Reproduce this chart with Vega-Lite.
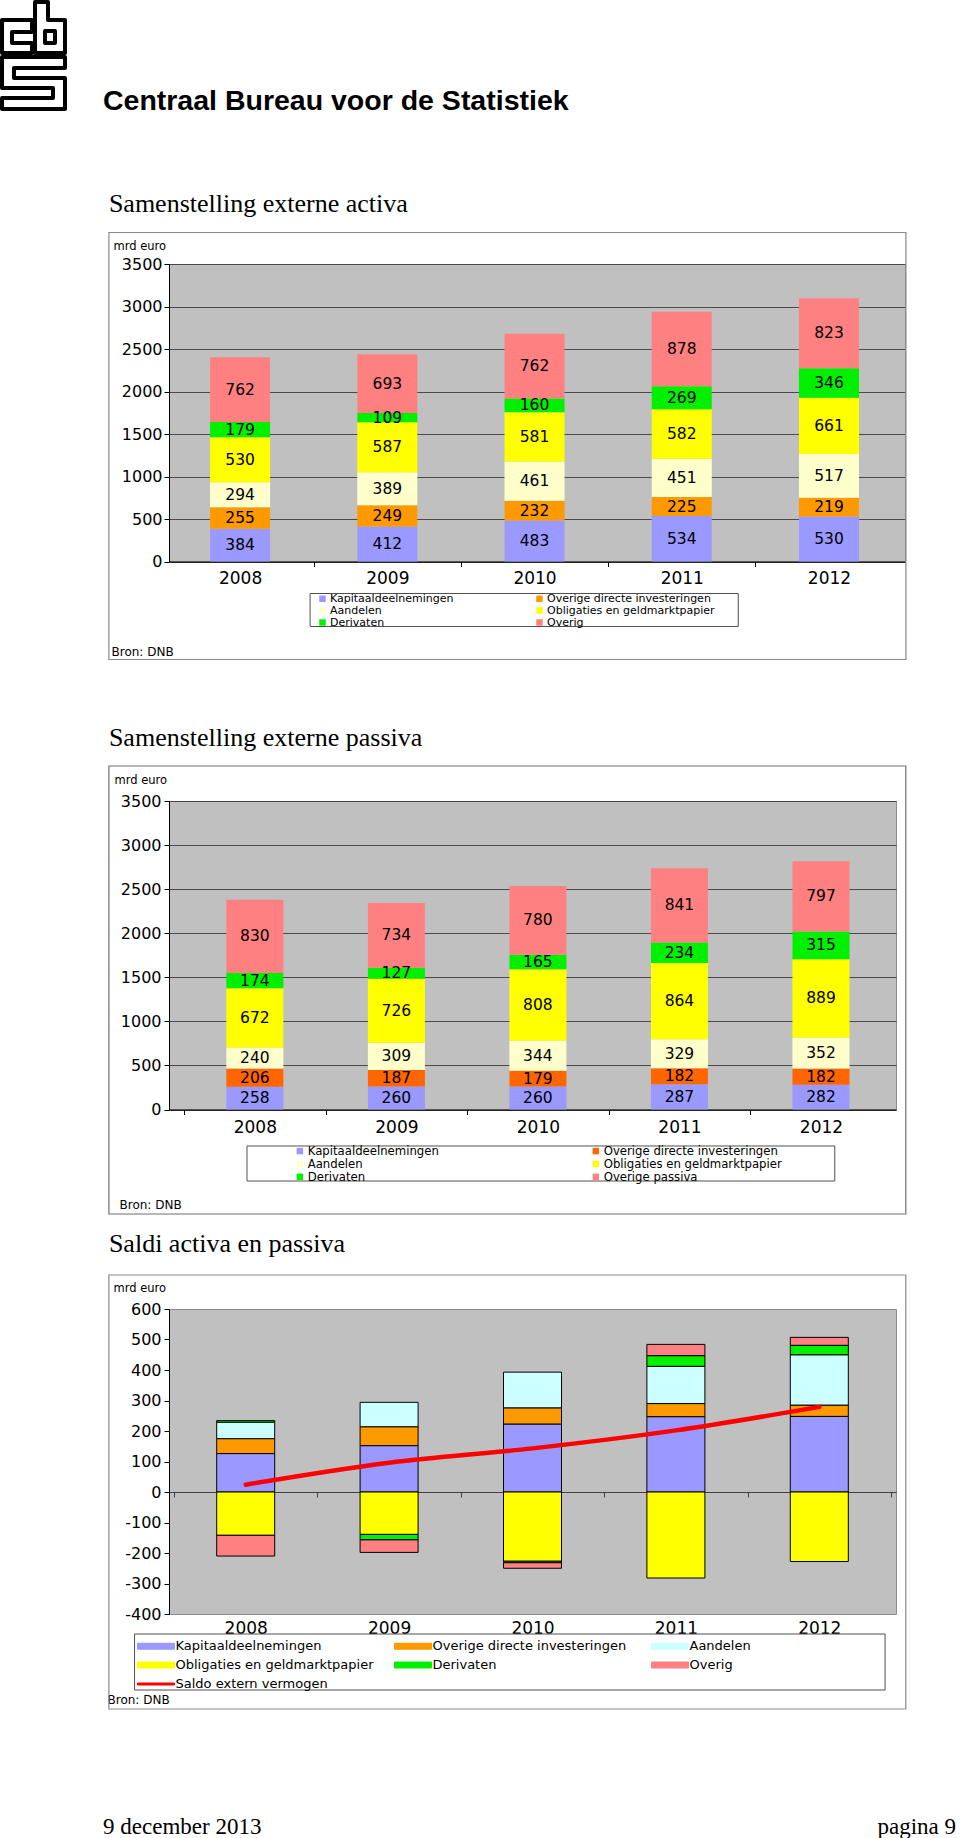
{
"$schema": "https://vega.github.io/schema/vega-lite/v6.json",
"padding": 0,
"background": "white",
"columns": 1,
"align": "none",
"spacing": 0,
"bounds": "full",
"resolve": {"scale": {"color": "independent"}, "legend": {"color": "independent"}},
"config": {
  "font": "DejaVu Sans",
  "view": {"stroke": null},
  "axis": {"labelColor": "#000", "titleColor": "#000", "labelFont": "DejaVu Sans", "titleFont": "DejaVu Sans", "titleFontWeight": "normal", "labelOverlap": false},
  "axisY": {"labelOverlap": false},
  "legend": {"labelColor": "#000", "labelFont": "DejaVu Sans"}
},
"datasets": {
  "logo": [
    {"part": "c", "i": 1, "lx": 0.9, "ly": 6.0}, {"part": "c", "i": 2, "lx": 9.84, "ly": 6.0}, {"part": "c", "i": 3, "lx": 9.84, "ly": 9.54}, {"part": "c", "i": 4, "lx": 3.88, "ly": 9.54}, {"part": "c", "i": 5, "lx": 3.88, "ly": 12.82}, {"part": "c", "i": 6, "lx": 9.84, "ly": 12.82}, {"part": "c", "i": 7, "lx": 9.84, "ly": 15.81}, {"part": "c", "i": 8, "lx": 0.9, "ly": 15.81}, {"part": "c", "i": 9, "lx": 0.9, "ly": 6.0},
    {"part": "b", "i": 1, "lx": 10.74, "ly": 0.6}, {"part": "b", "i": 2, "lx": 14.61, "ly": 0.6}, {"part": "b", "i": 3, "lx": 14.61, "ly": 5.96}, {"part": "b", "i": 4, "lx": 19.68, "ly": 5.96}, {"part": "b", "i": 5, "lx": 19.68, "ly": 15.81}, {"part": "b", "i": 6, "lx": 10.74, "ly": 15.81}, {"part": "b", "i": 7, "lx": 10.74, "ly": 0.6},
    {"part": "h", "i": 1, "lx": 13.72, "ly": 9.25}, {"part": "h", "i": 2, "lx": 16.7, "ly": 9.25}, {"part": "h", "i": 3, "lx": 16.7, "ly": 12.82}, {"part": "h", "i": 4, "lx": 13.72, "ly": 12.82}, {"part": "h", "i": 5, "lx": 13.72, "ly": 9.25},
    {"part": "s", "i": 1, "lx": 0.9, "ly": 17.0}, {"part": "s", "i": 2, "lx": 19.68, "ly": 17.0}, {"part": "s", "i": 3, "lx": 19.68, "ly": 20.28}, {"part": "s", "i": 4, "lx": 4.47, "ly": 20.28}, {"part": "s", "i": 5, "lx": 4.47, "ly": 23.26}, {"part": "s", "i": 6, "lx": 19.68, "ly": 23.26}, {"part": "s", "i": 7, "lx": 19.68, "ly": 32.51}, {"part": "s", "i": 8, "lx": 0.9, "ly": 32.51}, {"part": "s", "i": 9, "lx": 0.9, "ly": 29.23}, {"part": "s", "i": 10, "lx": 16.1, "ly": 29.23}, {"part": "s", "i": 11, "lx": 16.1, "ly": 26.24}, {"part": "s", "i": 12, "lx": 0.9, "ly": 26.24}, {"part": "s", "i": 13, "lx": 0.9, "ly": 17.0}
  ],
  "a1": [
    {"year": 2008, "reeks": "Kapitaaldeelnemingen", "k": 1, "v": 384}, {"year": 2009, "reeks": "Kapitaaldeelnemingen", "k": 1, "v": 412}, {"year": 2010, "reeks": "Kapitaaldeelnemingen", "k": 1, "v": 483}, {"year": 2011, "reeks": "Kapitaaldeelnemingen", "k": 1, "v": 534}, {"year": 2012, "reeks": "Kapitaaldeelnemingen", "k": 1, "v": 530},
    {"year": 2008, "reeks": "Overige directe investeringen", "k": 2, "v": 255}, {"year": 2009, "reeks": "Overige directe investeringen", "k": 2, "v": 249}, {"year": 2010, "reeks": "Overige directe investeringen", "k": 2, "v": 232}, {"year": 2011, "reeks": "Overige directe investeringen", "k": 2, "v": 225}, {"year": 2012, "reeks": "Overige directe investeringen", "k": 2, "v": 219},
    {"year": 2008, "reeks": "Aandelen", "k": 3, "v": 294}, {"year": 2009, "reeks": "Aandelen", "k": 3, "v": 389}, {"year": 2010, "reeks": "Aandelen", "k": 3, "v": 461}, {"year": 2011, "reeks": "Aandelen", "k": 3, "v": 451}, {"year": 2012, "reeks": "Aandelen", "k": 3, "v": 517},
    {"year": 2008, "reeks": "Obligaties en geldmarktpapier", "k": 4, "v": 530}, {"year": 2009, "reeks": "Obligaties en geldmarktpapier", "k": 4, "v": 587}, {"year": 2010, "reeks": "Obligaties en geldmarktpapier", "k": 4, "v": 581}, {"year": 2011, "reeks": "Obligaties en geldmarktpapier", "k": 4, "v": 582}, {"year": 2012, "reeks": "Obligaties en geldmarktpapier", "k": 4, "v": 661},
    {"year": 2008, "reeks": "Derivaten", "k": 5, "v": 179}, {"year": 2009, "reeks": "Derivaten", "k": 5, "v": 109}, {"year": 2010, "reeks": "Derivaten", "k": 5, "v": 160}, {"year": 2011, "reeks": "Derivaten", "k": 5, "v": 269}, {"year": 2012, "reeks": "Derivaten", "k": 5, "v": 346},
    {"year": 2008, "reeks": "Overig", "k": 6, "v": 762}, {"year": 2009, "reeks": "Overig", "k": 6, "v": 693}, {"year": 2010, "reeks": "Overig", "k": 6, "v": 762}, {"year": 2011, "reeks": "Overig", "k": 6, "v": 878}, {"year": 2012, "reeks": "Overig", "k": 6, "v": 823}
  ],
  "a2": [
    {"year": 2008, "reeks": "Kapitaaldeelnemingen", "k": 1, "v": 258}, {"year": 2009, "reeks": "Kapitaaldeelnemingen", "k": 1, "v": 260}, {"year": 2010, "reeks": "Kapitaaldeelnemingen", "k": 1, "v": 260}, {"year": 2011, "reeks": "Kapitaaldeelnemingen", "k": 1, "v": 287}, {"year": 2012, "reeks": "Kapitaaldeelnemingen", "k": 1, "v": 282},
    {"year": 2008, "reeks": "Overige directe investeringen", "k": 2, "v": 206}, {"year": 2009, "reeks": "Overige directe investeringen", "k": 2, "v": 187}, {"year": 2010, "reeks": "Overige directe investeringen", "k": 2, "v": 179}, {"year": 2011, "reeks": "Overige directe investeringen", "k": 2, "v": 182}, {"year": 2012, "reeks": "Overige directe investeringen", "k": 2, "v": 182},
    {"year": 2008, "reeks": "Aandelen", "k": 3, "v": 240}, {"year": 2009, "reeks": "Aandelen", "k": 3, "v": 309}, {"year": 2010, "reeks": "Aandelen", "k": 3, "v": 344}, {"year": 2011, "reeks": "Aandelen", "k": 3, "v": 329}, {"year": 2012, "reeks": "Aandelen", "k": 3, "v": 352},
    {"year": 2008, "reeks": "Obligaties en geldmarktpapier", "k": 4, "v": 672}, {"year": 2009, "reeks": "Obligaties en geldmarktpapier", "k": 4, "v": 726}, {"year": 2010, "reeks": "Obligaties en geldmarktpapier", "k": 4, "v": 808}, {"year": 2011, "reeks": "Obligaties en geldmarktpapier", "k": 4, "v": 864}, {"year": 2012, "reeks": "Obligaties en geldmarktpapier", "k": 4, "v": 889},
    {"year": 2008, "reeks": "Derivaten", "k": 5, "v": 174}, {"year": 2009, "reeks": "Derivaten", "k": 5, "v": 127}, {"year": 2010, "reeks": "Derivaten", "k": 5, "v": 165}, {"year": 2011, "reeks": "Derivaten", "k": 5, "v": 234}, {"year": 2012, "reeks": "Derivaten", "k": 5, "v": 315},
    {"year": 2008, "reeks": "Overige passiva", "k": 6, "v": 830}, {"year": 2009, "reeks": "Overige passiva", "k": 6, "v": 734}, {"year": 2010, "reeks": "Overige passiva", "k": 6, "v": 780}, {"year": 2011, "reeks": "Overige passiva", "k": 6, "v": 841}, {"year": 2012, "reeks": "Overige passiva", "k": 6, "v": 797}
  ],
  "a3": [
    {"year": 2008, "reeks": "Kapitaaldeelnemingen", "k": 1, "v": 126}, {"year": 2009, "reeks": "Kapitaaldeelnemingen", "k": 1, "v": 152}, {"year": 2010, "reeks": "Kapitaaldeelnemingen", "k": 1, "v": 223}, {"year": 2011, "reeks": "Kapitaaldeelnemingen", "k": 1, "v": 247}, {"year": 2012, "reeks": "Kapitaaldeelnemingen", "k": 1, "v": 248},
    {"year": 2008, "reeks": "Overige directe investeringen", "k": 2, "v": 49}, {"year": 2009, "reeks": "Overige directe investeringen", "k": 2, "v": 62}, {"year": 2010, "reeks": "Overige directe investeringen", "k": 2, "v": 53}, {"year": 2011, "reeks": "Overige directe investeringen", "k": 2, "v": 43}, {"year": 2012, "reeks": "Overige directe investeringen", "k": 2, "v": 37},
    {"year": 2008, "reeks": "Aandelen", "k": 3, "v": 54}, {"year": 2009, "reeks": "Aandelen", "k": 3, "v": 80}, {"year": 2010, "reeks": "Aandelen", "k": 3, "v": 117}, {"year": 2011, "reeks": "Aandelen", "k": 3, "v": 122}, {"year": 2012, "reeks": "Aandelen", "k": 3, "v": 165},
    {"year": 2008, "reeks": "Obligaties en geldmarktpapier", "k": 4, "v": -142}, {"year": 2009, "reeks": "Obligaties en geldmarktpapier", "k": 4, "v": -139}, {"year": 2010, "reeks": "Obligaties en geldmarktpapier", "k": 4, "v": -227}, {"year": 2011, "reeks": "Obligaties en geldmarktpapier", "k": 4, "v": -282}, {"year": 2012, "reeks": "Obligaties en geldmarktpapier", "k": 4, "v": -228},
    {"year": 2008, "reeks": "Derivaten", "k": 5, "v": 5}, {"year": 2009, "reeks": "Derivaten", "k": 5, "v": -18}, {"year": 2010, "reeks": "Derivaten", "k": 5, "v": -5}, {"year": 2011, "reeks": "Derivaten", "k": 5, "v": 35}, {"year": 2012, "reeks": "Derivaten", "k": 5, "v": 31},
    {"year": 2008, "reeks": "Overig", "k": 6, "v": -68}, {"year": 2009, "reeks": "Overig", "k": 6, "v": -41}, {"year": 2010, "reeks": "Overig", "k": 6, "v": -18}, {"year": 2011, "reeks": "Overig", "k": 6, "v": 37}, {"year": 2012, "reeks": "Overig", "k": 6, "v": 26}
  ],
  "s3": [
    {"year": 2008, "reeks": "Saldo extern vermogen", "v": 24}, {"year": 2009, "reeks": "Saldo extern vermogen", "v": 96}, {"year": 2010, "reeks": "Saldo extern vermogen", "v": 143}, {"year": 2011, "reeks": "Saldo extern vermogen", "v": 202}, {"year": 2012, "reeks": "Saldo extern vermogen", "v": 279}
  ]
},
"concat": [
  {
    "width": 742, "height": 140,
    "view": {"stroke": null},
    "layer": [
      {"data": {"name": "logo"}, "mark": {"type": "line", "color": "#000", "strokeWidth": 4, "strokeJoin": "round", "strokeCap": "round", "clip": false},
       "encoding": {
         "x": {"field": "lx", "type": "quantitative", "scale": {"domain": [50.7, 272], "nice": false, "zero": false}, "axis": null},
         "y": {"field": "ly", "type": "quantitative", "scale": {"domain": [0, 41.75], "reverse": true, "nice": false, "zero": false}, "axis": null},
         "detail": {"field": "part"},
         "order": {"field": "i"}}},
      {"data": {"values": [{"t": "Centraal Bureau voor de Statistiek"}]},
       "mark": {"type": "text", "font": "Liberation Sans", "fontWeight": "bold", "fontSize": 28.5, "align": "left", "baseline": "alphabetic", "color": "#000", "clip": false},
       "encoding": {
         "x": {"datum": 31, "type": "quantitative", "scale": {"domain": [50.7, 272], "nice": false, "zero": false}, "axis": null},
         "y": {"datum": 32.8, "type": "quantitative", "scale": {"domain": [0, 41.75], "reverse": true, "nice": false, "zero": false}, "axis": null},
         "text": {"field": "t"}}}
    ]
  },
  {
    "width": 736, "height": 297.5,
    "view": {"fill": "#c0c0c0", "stroke": "#8c8c8c", "strokeWidth": 1},
    "layer": [
      {"data": {"values": [{}]}, "mark": {"type": "rect", "opacity": 0, "clip": false},
       "encoding": {
         "x": {"datum": 2006.4121, "type": "quantitative", "scale": {"domain": [2007.5511, 2012.4824], "nice": false, "zero": false}},
         "x2": {"datum": 2007.1089},
         "y": {"datum": 4941.3, "type": "quantitative", "scale": {"domain": [0, 3500], "nice": false, "zero": false}},
         "y2": {"datum": -1529.4}}},
      {"data": {"values": [{"t": "Samenstelling externe activa"}]},
       "mark": {"type": "text", "font": "Liberation Serif", "fontSize": 26, "align": "left", "baseline": "alphabetic", "color": "#000", "clip": false},
       "encoding": {
         "x": {"datum": 2007.1089, "type": "quantitative"},
         "y": {"datum": 4106, "type": "quantitative"},
         "text": {"field": "t"}}},
      {"data": {"values": [{}]}, "mark": {"type": "rect", "fillOpacity": 0, "stroke": "#8a8a8a", "strokeWidth": 1.2, "clip": false},
       "encoding": {
         "x": {"datum": 2007.1089, "type": "quantitative"},
         "x2": {"datum": 2012.5226},
         "y": {"datum": 3870.7, "type": "quantitative"},
         "y2": {"datum": -1153}}},
      {"data": {"values": [{}]}, "mark": {"type": "rect", "fillOpacity": 0, "stroke": "#505050", "strokeWidth": 1, "clip": false},
       "encoding": {
         "x": {"datum": 2008.4757, "type": "quantitative"},
         "x2": {"datum": 2011.3836},
         "y": {"datum": -376.5, "type": "quantitative"},
         "y2": {"datum": -764.7}}},
      {"data": {"name": "a1"},
       "transform": [{"stack": "v", "groupby": ["year"], "sort": [{"field": "k", "order": "ascending"}], "as": ["s0", "s1"]}],
       "mark": {"type": "bar", "size": 60, "orient": "vertical"},
       "encoding": {
         "x": {"field": "year", "type": "quantitative", "scale": {"domain": [2007.5511, 2012.4824], "nice": false, "zero": false},
               "axis": {"values": [2008, 2008.5, 2009, 2009.5, 2010, 2010.5, 2011, 2011.5, 2012],
                        "labelExpr": "datum.value % 1 == 0 ? '' + datum.value : ''",
                        "tickOpacity": {"condition": {"test": "datum.value % 1 == 0", "value": 0}, "value": 1},
                        "tickSize": 5, "tickColor": "#000", "domainColor": "#000", "labelFontSize": 17, "labelPadding": 3.5,
                        "labelOverlap": false, "labelFlush": false, "labelBound": false, "grid": false,
                        "title": "Bron: DNB", "titleX": -58, "titleY": 90, "titleAlign": "left", "titleAnchor": "start", "titleBaseline": "middle", "titleFontSize": 12}},
         "y": {"field": "s0", "type": "quantitative", "scale": {"domain": [0, 3500], "nice": false, "zero": false},
               "axis": {"values": [0, 500, 1000, 1500, 2000, 2500, 3000, 3500], "grid": true, "gridColor": "#4a4a4a", "gridWidth": 1,
                        "tickSize": 5, "tickColor": "#000", "domainColor": "#000", "labelFontSize": 16, "labelPadding": 2, "labelOverlap": false,
                        "labelExpr": "'' + datum.value",
                        "title": "mrd euro", "titleAngle": 0, "titleX": -56, "titleY": -17.5, "titleAlign": "left", "titleAnchor": "start", "titleBaseline": "middle", "titleFontSize": 11.5}},
         "y2": {"field": "s1"},
         "color": {"field": "reeks", "type": "nominal",
                   "scale": {"domain": ["Kapitaaldeelnemingen", "Overige directe investeringen", "Aandelen", "Obligaties en geldmarktpapier", "Derivaten", "Overig"],
                             "range": ["#9999ff", "#ff9900", "#ffffcc", "#ffff00", "#00f000", "#ff8080"]},
                   "legend": {"orient": "none", "legendX": 148, "legendY": 329, "direction": "horizontal", "columns": 2, "columnPadding": 80, "rowPadding": 0,
                              "symbolType": "square", "symbolSize": 42, "symbolStrokeWidth": 0, "labelFontSize": 11, "labelOffset": 2, "labelLimit": 400,
                              "padding": 0, "title": null}}}},
      {"data": {"name": "a1"},
       "transform": [
         {"stack": "v", "groupby": ["year"], "sort": [{"field": "k", "order": "ascending"}], "as": ["s0", "s1"]},
         {"fold": ["s0", "s1"], "as": ["edge", "pos"]},
         {"aggregate": [{"op": "mean", "field": "pos", "as": "mid"}], "groupby": ["year", "reeks", "v"]}],
       "mark": {"type": "text", "fontSize": 15.5, "color": "#000", "baseline": "middle", "align": "center"},
       "encoding": {
         "x": {"field": "year", "type": "quantitative"},
         "y": {"field": "mid", "type": "quantitative"},
         "text": {"field": "v"}}}
    ]
  },
  {
    "width": 727, "height": 308.5,
    "view": {"fill": "#c0c0c0", "stroke": "#8c8c8c", "strokeWidth": 1},
    "layer": [
      {"data": {"values": [{}]}, "mark": {"type": "rect", "opacity": 0, "clip": false},
       "encoding": {
         "x": {"datum": 2006.2439, "type": "quantitative", "scale": {"domain": [2007.4286, 2012.4948], "nice": false, "zero": false}},
         "x2": {"datum": 2006.9687},
         "y": {"datum": 4725.2, "type": "quantitative", "scale": {"domain": [0, 3500], "nice": false, "zero": false}},
         "y2": {"datum": -1287.7}}},
      {"data": {"values": [{"t": "Samenstelling externe passiva"}]},
       "mark": {"type": "text", "font": "Liberation Serif", "fontSize": 26, "align": "left", "baseline": "alphabetic", "color": "#000", "clip": false},
       "encoding": {
         "x": {"datum": 2006.9687, "type": "quantitative"},
         "y": {"datum": 4124, "type": "quantitative"},
         "text": {"field": "t"}}},
      {"data": {"values": [{}]}, "mark": {"type": "rect", "fillOpacity": 0, "stroke": "#707070", "strokeWidth": 1.2, "clip": false},
       "encoding": {
         "x": {"datum": 2006.9687, "type": "quantitative"},
         "x2": {"datum": 2012.5993},
         "y": {"datum": 3897, "type": "quantitative"},
         "y2": {"datum": -1185.6}}},
      {"data": {"values": [{}]}, "mark": {"type": "rect", "fillOpacity": 0, "stroke": "#505050", "strokeWidth": 1, "clip": false},
       "encoding": {
         "x": {"datum": 2007.9443, "type": "quantitative"},
         "x2": {"datum": 2012.0976},
         "y": {"datum": -414.1, "type": "quantitative"},
         "y2": {"datum": -811.2}}},
      {"data": {"name": "a2"},
       "transform": [{"stack": "v", "groupby": ["year"], "sort": [{"field": "k", "order": "ascending"}], "as": ["s0", "s1"]}],
       "mark": {"type": "bar", "size": 57, "orient": "vertical"},
       "encoding": {
         "x": {"field": "year", "type": "quantitative", "scale": {"domain": [2007.4286, 2012.4948], "nice": false, "zero": false},
               "axis": {"values": [2007.5, 2008, 2008.5, 2009, 2009.5, 2010, 2010.5, 2011, 2011.5, 2012],
                        "labelExpr": "datum.value % 1 == 0 ? '' + datum.value : ''",
                        "tickOpacity": {"condition": {"test": "datum.value % 1 == 0", "value": 0}, "value": 1},
                        "tickSize": 5, "tickColor": "#000", "domainColor": "#000", "labelFontSize": 17, "labelPadding": 5,
                        "labelOverlap": false, "labelFlush": false, "labelBound": false, "grid": false,
                        "title": "Bron: DNB", "titleX": -50, "titleY": 94.5, "titleAlign": "left", "titleAnchor": "start", "titleBaseline": "middle", "titleFontSize": 12}},
         "y": {"field": "s0", "type": "quantitative", "scale": {"domain": [0, 3500], "nice": false, "zero": false},
               "axis": {"values": [0, 500, 1000, 1500, 2000, 2500, 3000, 3500], "grid": true, "gridColor": "#4a4a4a", "gridWidth": 1,
                        "tickSize": 5, "tickColor": "#000", "domainColor": "#000", "labelFontSize": 16, "labelPadding": 3, "labelOverlap": false,
                        "labelExpr": "'' + datum.value",
                        "title": "mrd euro", "titleAngle": 0, "titleX": -55, "titleY": -21, "titleAlign": "left", "titleAnchor": "start", "titleBaseline": "middle", "titleFontSize": 11.5}},
         "y2": {"field": "s1"},
         "color": {"field": "reeks", "type": "nominal",
                   "scale": {"domain": ["Kapitaaldeelnemingen", "Overige directe investeringen", "Aandelen", "Obligaties en geldmarktpapier", "Derivaten", "Overige passiva"],
                             "range": ["#9999ff", "#ff6600", "#ffffcc", "#ffff00", "#00f000", "#ff8080"]},
                   "legend": {"orient": "none", "legendX": 125, "legendY": 344, "direction": "horizontal", "columns": 2, "columnPadding": 151, "rowPadding": 0,
                              "symbolType": "square", "symbolSize": 42, "symbolStrokeWidth": 0, "labelFontSize": 11.7, "labelOffset": 2, "labelLimit": 400,
                              "padding": 0, "title": null}}}},
      {"data": {"name": "a2"},
       "transform": [
         {"stack": "v", "groupby": ["year"], "sort": [{"field": "k", "order": "ascending"}], "as": ["s0", "s1"]},
         {"fold": ["s0", "s1"], "as": ["edge", "pos"]},
         {"aggregate": [{"op": "mean", "field": "pos", "as": "mid"}], "groupby": ["year", "reeks", "v"]}],
       "mark": {"type": "text", "fontSize": 15.5, "color": "#000", "baseline": "middle", "align": "center"},
       "encoding": {
         "x": {"field": "year", "type": "quantitative"},
         "y": {"field": "mid", "type": "quantitative"},
         "text": {"field": "v"}}}
    ]
  },
  {
    "width": 727, "height": 305,
    "view": {"fill": "#c0c0c0", "stroke": "#8c8c8c", "strokeWidth": 1},
    "layer": [
      {"data": {"values": [{}]}, "mark": {"type": "rect", "opacity": 0, "clip": false},
       "encoding": {
         "x": {"datum": 2006.3308, "type": "quantitative", "scale": {"domain": [2007.5, 2012.5], "nice": false, "zero": false}},
         "x2": {"datum": 2007.0461},
         "y": {"datum": 875.4, "type": "quantitative", "scale": {"domain": [-400, 600], "nice": false, "zero": false}},
         "y2": {"datum": -737.7}}},
      {"data": {"values": [{"t": "Saldi activa en passiva"}]},
       "mark": {"type": "text", "font": "Liberation Serif", "fontSize": 26, "align": "left", "baseline": "alphabetic", "color": "#000", "clip": false},
       "encoding": {
         "x": {"datum": 2007.0461, "type": "quantitative"},
         "y": {"datum": 786.9, "type": "quantitative"},
         "text": {"field": "t"}}},
      {"data": {"values": [{}]}, "mark": {"type": "rect", "fillOpacity": 0, "stroke": "#8a8a8a", "strokeWidth": 1.2, "clip": false},
       "encoding": {
         "x": {"datum": 2007.0461, "type": "quantitative"},
         "x2": {"datum": 2012.6032},
         "y": {"datum": 711.5, "type": "quantitative"},
         "y2": {"datum": -711.5}}},
      {"data": {"values": [{}]}, "mark": {"type": "rect", "fillOpacity": 0, "stroke": "#505050", "strokeWidth": 1, "clip": false},
       "encoding": {
         "x": {"datum": 2007.2249, "type": "quantitative"},
         "x2": {"datum": 2012.4587},
         "y": {"datum": -465.6, "type": "quantitative"},
         "y2": {"datum": -649.2}}},
      {"data": {"name": "a3"},
       "transform": [{"stack": "v", "groupby": ["year"], "sort": [{"field": "k", "order": "ascending"}], "as": ["s0", "s1"]}],
       "mark": {"type": "bar", "size": 58, "orient": "vertical", "stroke": "#000", "strokeWidth": 1},
       "encoding": {
         "x": {"field": "year", "type": "quantitative", "scale": {"domain": [2007.5, 2012.5], "nice": false, "zero": false},
               "axis": {"values": [2007.5, 2008, 2008.5, 2009, 2009.5, 2010, 2010.5, 2011, 2011.5, 2012, 2012.5],
                        "offset": -122,
                        "labelExpr": "datum.value % 1 == 0 ? '' + datum.value : ''",
                        "tickOpacity": {"condition": {"test": "datum.value % 1 == 0", "value": 0}, "value": 1},
                        "tickSize": 5, "tickColor": "#404040", "domainColor": "#404040", "labelFontSize": 17, "labelPadding": 123.5,
                        "labelOverlap": false, "labelFlush": false, "labelBound": false, "grid": false,
                        "title": "Bron: DNB", "titleX": -62, "titleY": 207, "titleAlign": "left", "titleAnchor": "start", "titleBaseline": "middle", "titleFontSize": 12}},
         "y": {"field": "s0", "type": "quantitative", "scale": {"domain": [-400, 600], "nice": false, "zero": false},
               "axis": {"values": [-400, -300, -200, -100, 0, 100, 200, 300, 400, 500, 600], "tickCount": 11, "grid": false,
                        "tickSize": 5, "tickColor": "#000", "domainColor": "#000", "labelFontSize": 16, "labelPadding": 3, "labelOverlap": false,
                        "labelExpr": "'' + datum.value",
                        "title": "mrd euro", "titleAngle": 0, "titleX": -56, "titleY": -21, "titleAlign": "left", "titleAnchor": "start", "titleBaseline": "middle", "titleFontSize": 11.5}},
         "y2": {"field": "s1"},
         "color": {"field": "reeks", "type": "nominal",
                   "scale": {"domain": ["Kapitaaldeelnemingen", "Overige directe investeringen", "Aandelen", "Obligaties en geldmarktpapier", "Derivaten", "Overig", "Saldo extern vermogen"],
                             "range": ["#9999ff", "#ff9900", "#ccffff", "#ffff00", "#00f000", "#ff8080", "#ff0000"]},
                   "legend": {"orient": "none", "legendX": -33, "legendY": 330.5, "direction": "horizontal", "columns": 3, "columnPadding": 18, "rowPadding": 5, "gridAlign": "all",
                              "symbolType": "M-3.7,-0.6H3.7V0.6H-3.7Z", "symbolSize": 100, "symbolOffset": 13.5, "symbolStrokeColor": "#000", "symbolStrokeWidth": 1,
                              "labelFontSize": 13, "labelOffset": 13, "labelLimit": 400, "padding": 0, "title": null,
                              "encode": {"symbols": {"update": {
                                "shape": {"signal": "datum.value === 'Saldo extern vermogen' ? 'M-3.7,-0.2H3.7V0.2H-3.7Z' : 'M-3.7,-0.6H3.7V0.6H-3.7Z'"},
                                "stroke": {"signal": "datum.value === 'Saldo extern vermogen' ? '#ff0000' : '#000000'"},
                                "strokeWidth": {"value": 1},
                                "fill": {"signal": "datum.value === 'Kapitaaldeelnemingen' ? '#9999ff' : datum.value === 'Overige directe investeringen' ? '#ff9900' : datum.value === 'Aandelen' ? '#ccffff' : datum.value === 'Obligaties en geldmarktpapier' ? '#ffff00' : datum.value === 'Derivaten' ? '#00f000' : datum.value === 'Overig' ? '#ff8080' : '#ff0000'"},
                                "opacity": {"value": 1}}}}}}}},
      {"data": {"name": "s3"},
       "mark": {"type": "line", "interpolate": "monotone", "strokeWidth": 4.5, "strokeCap": "round"},
       "encoding": {
         "x": {"field": "year", "type": "quantitative"},
         "y": {"field": "v", "type": "quantitative",
               "axis": {"values": [-400, -300, -200, -100, 0, 100, 200, 300, 400, 500, 600], "tickCount": 11, "grid": false,
                        "tickSize": 5, "tickColor": "#000", "domainColor": "#000", "labelFontSize": 16, "labelPadding": 3, "labelOverlap": false,
                        "labelExpr": "'' + datum.value",
                        "title": "mrd euro", "titleAngle": 0, "titleX": -56, "titleY": -21, "titleAlign": "left", "titleAnchor": "start", "titleBaseline": "middle", "titleFontSize": 11.5}},
         "color": {"field": "reeks", "type": "nominal",
                   "scale": {"domain": ["Kapitaaldeelnemingen", "Overige directe investeringen", "Aandelen", "Obligaties en geldmarktpapier", "Derivaten", "Overig", "Saldo extern vermogen"],
                             "range": ["#9999ff", "#ff9900", "#ccffff", "#ffff00", "#00f000", "#ff8080", "#ff0000"]},
                   "legend": {"orient": "none", "legendX": -33, "legendY": 330.5, "direction": "horizontal", "columns": 3, "columnPadding": 18, "rowPadding": 5, "gridAlign": "all",
                              "symbolType": "M-3.7,-0.6H3.7V0.6H-3.7Z", "symbolSize": 100, "symbolOffset": 13.5, "symbolStrokeColor": "#000", "symbolStrokeWidth": 1,
                              "labelFontSize": 13, "labelOffset": 13, "labelLimit": 400, "padding": 0, "title": null}}}}
    ]
  },
  {
    "width": 787, "height": 122,
    "view": {"stroke": null},
    "layer": [
      {"data": {"values": [{"t": "9 december 2013"}]},
       "mark": {"type": "text", "font": "Liberation Serif", "fontSize": 23, "align": "left", "baseline": "alphabetic", "color": "#000", "clip": false},
       "encoding": {
         "x": {"datum": 0.1087, "type": "quantitative", "scale": {"domain": [0.1776, 1], "nice": false, "zero": false}, "axis": null},
         "y": {"datum": 0.05, "type": "quantitative", "scale": {"domain": [0, 1], "nice": false, "zero": false}, "axis": null},
         "text": {"field": "t"}}},
      {"data": {"values": [{"t": "pagina 9"}]},
       "mark": {"type": "text", "font": "Liberation Serif", "fontSize": 23, "align": "right", "baseline": "alphabetic", "color": "#000", "clip": false},
       "encoding": {
         "x": {"datum": 1, "type": "quantitative", "scale": {"domain": [0.1776, 1], "nice": false, "zero": false}, "axis": null},
         "y": {"datum": 0.05, "type": "quantitative", "scale": {"domain": [0, 1], "nice": false, "zero": false}, "axis": null},
         "text": {"field": "t"}}}
    ]
  }
]
}
